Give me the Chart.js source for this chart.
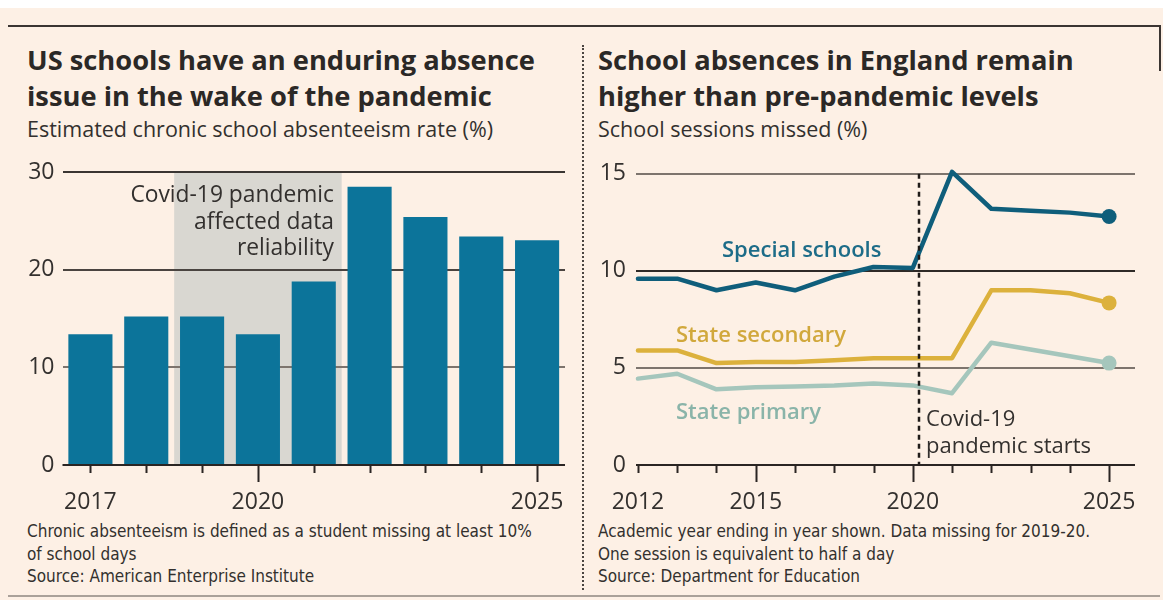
<!DOCTYPE html>
<html><head><meta charset="utf-8">
<script src="https://cdn.jsdelivr.net/npm/chart.js@4.4.1/dist/chart.umd.min.js"></script>
<style>
html,body{margin:0;padding:0;background:#fff;}
#root{position:relative;width:1163px;height:611px;overflow:hidden;background:#fff;font-family:"Open Sans",sans-serif;color:#33302e}
#paper{position:absolute;left:0;top:8px;width:1163px;height:592px;background:#fdf0e5}
.topline{position:absolute;left:8px;top:25px;width:1153px;height:2px;background:#3b3532}
.rightline{position:absolute;left:1159px;top:25px;width:2px;height:46px;background:#3b3532}
.bottomline{position:absolute;left:8px;top:595px;width:1152px;height:2px;background:#aaa199}
.sep{position:absolute;left:582px;top:45px;height:545px;border-left:2px dotted #4a4440}
.title{position:absolute;font-weight:700;font-size:27.3px;line-height:36px;white-space:nowrap;color:#2b2826}
.sub{position:absolute;font-size:21.5px;line-height:24px;white-space:nowrap}
.note{position:absolute;font-family:"Liberation Sans Narrow","DejaVu Sans Condensed",sans-serif;font-stretch:condensed;font-size:17px;line-height:22.5px;white-space:nowrap}
.box{position:absolute}
.lab{position:absolute;white-space:nowrap;font-size:22px;line-height:26.5px}
.ser{position:absolute;white-space:nowrap;font-size:22px;line-height:26px;font-weight:600}
</style></head>
<body>
<div id="root">
  <div id="paper"></div>
  <div class="topline"></div><div class="rightline"></div>
  <div class="bottomline"></div>
  <div class="sep"></div>

  <div class="title" style="left:27px;top:42px">US schools have an enduring absence<br>issue in the wake of the pandemic</div>
  <div class="sub" style="left:27px;top:117px">Estimated chronic school absenteeism rate (%)</div>
  <div class="title" style="left:598px;top:42px">School absences in England remain<br>higher than pre-pandemic levels</div>
  <div class="sub" style="left:598px;top:117px">School sessions missed (%)</div>

  <div class="box" style="left:0;top:150px;width:580px;height:370px"><canvas id="cL" width="580" height="370"></canvas></div>
  <div class="box" style="left:585px;top:150px;width:578px;height:370px"><canvas id="cR" width="578" height="370"></canvas></div>

  <div class="lab" style="right:829px;top:181px;text-align:right;font-size:22.8px">Covid-19 pandemic<br>affected data<br>reliability</div>

  <div class="ser" style="left:722px;top:235px;color:#1d6c88">Special schools</div>
  <div class="ser" style="left:676px;top:320px;color:#d1a83c">State secondary</div>
  <div class="ser" style="left:676px;top:397px;color:#8ab4a9">State primary</div>
  <div class="lab" style="left:926px;top:404px">Covid-19<br>pandemic starts</div>

  <div class="note" style="left:27px;top:520px">Chronic absenteeism is defined as a student missing at least 10%<br>of school days<br>Source: American Enterprise Institute</div>
  <div class="note" style="left:598px;top:520px">Academic year ending in year shown. Data missing for 2019-20.<br>One session is equivalent to half a day<br>Source: Department for Education</div>
</div>
<script>
// ---------- data: US chronic absenteeism ----------
const usYears = ['2017','2018','2019','2020','2021','2022','2023','2024','2025'];
const usRate = [13.4, 15.2, 15.2, 13.4, 18.8, 28.5, 25.4, 23.4, 23.0];
const usTickLabels = ['2017','','','2020','','','','','2025'];
const usMajorTicks = ['2020','2025'];
const usYTicks = [0, 10, 20, 30];
const usCovidBand = [1.5, 4.5]; // category index span (2018.5 – 2021.5)

// ---------- data: England sessions missed ----------
const engYears = ['2012','2013','2014','2015','2016','2017','2018','2019','2021','2022','2023','2024','2025'];
const engTickLabels = ['2012','','','2015','','','','2020','','','','','2025'];
const engMajorIdx = [3, 7, 12];
const special   = [9.6, 9.6, 9.0, 9.4, 9.0, 9.7, 10.2, 10.15, 15.1, 13.2, 13.1, 13.0, 12.8];
const secondary = [5.9, 5.9, 5.25, 5.3, 5.3, 5.4, 5.5, 5.5, 5.5, 9.0, 9.0, 8.85, 8.35];
const primary   = [4.45, 4.7, 3.9, 4.0, 4.05, 4.1, 4.2, 4.1, 3.7, 6.3, 5.95, 5.6, 5.25];
const engYTicks = [0, 5, 10, 15];
const pandemicStart = 7.15; // position on the category index axis

const FONT = '"Open Sans", sans-serif';
const TXT = '#33302e';

function baseAndTicks(majorTest){
  return {
    id:'baseAndTicks',
    afterDatasetsDraw(chart){
      const {ctx, chartArea, scales:{x,y}} = chart;
      const by = Math.round(y.getPixelForValue(0));
      ctx.save();
      ctx.strokeStyle = '#2a2523';
      ctx.lineWidth = 2;
      ctx.beginPath();
      ctx.moveTo(chartArea.left, by); ctx.lineTo(chartArea.right, by);
      ctx.stroke();
      x.ticks.forEach((t,i)=>{
        const px = Math.round(x.getPixelForTick(i)) + 0.5;
        const len = majorTest(t,i) ? 17 : 8;
        ctx.beginPath(); ctx.moveTo(px, by); ctx.lineTo(px, by+len); ctx.stroke();
      });
      ctx.restore();
    }
  };
}

const bandPlugin = {
  id:'band',
  beforeDraw(chart){
    const {ctx, scales:{x,y}} = chart;
    const x0 = x.getPixelForValue(usCovidBand[0]);
    const x1 = x.getPixelForValue(usCovidBand[1]);
    const y0 = y.getPixelForValue(30), y1 = y.getPixelForValue(0);
    ctx.save(); ctx.fillStyle = '#d9d7d1';
    ctx.fillRect(x0, y0, x1-x0, y1-y0);
    ctx.restore();
  }
};

const dashPlugin = {
  id:'dash',
  afterDatasetsDraw(chart){
    const {ctx, scales:{x,y}} = chart;
    const px = Math.round(x.getPixelForValue(pandemicStart));
    ctx.save();
    ctx.strokeStyle = '#1f1b19'; ctx.lineWidth = 2.5; ctx.setLineDash([5,4]);
    ctx.beginPath(); ctx.moveTo(px, y.getPixelForValue(15)); ctx.lineTo(px, y.getPixelForValue(0)); ctx.stroke();
    ctx.restore();
  }
};

const gridColorL = {30:'#3a3532', 20:'#4a4440', 10:'#7d746d'};
const gridColorR = {15:'#7d746d', 10:'#2f2a27', 5:'#7d746d'};

new Chart(document.getElementById('cL'), {
  type:'bar',
  data:{labels:usYears, datasets:[{data:usRate, backgroundColor:'#0c749a', borderWidth:0, barPercentage:0.79, categoryPercentage:1}]},
  options:{
    responsive:false, animation:false,
    layout:{padding:{left:0, right:11, top:22, bottom:0}, autoPadding:false},
    plugins:{legend:{display:false}, tooltip:{enabled:false}},
    scales:{
      x:{
        grid:{display:false}, border:{display:false},
        ticks:{autoSkip:false, maxRotation:0, padding:16, color:TXT, font:{family:FONT, size:23},
               callback:(v,i)=>usTickLabels[i]},
        afterFit:s=>{s.height = 55;}
      },
      y:{
        min:0, max:30,
        afterBuildTicks:s=>{s.ticks = usYTicks.map(v=>({value:v}));},
        grid:{drawTicks:false, color:c=>c.tick && c.tick.value!==0 ? gridColorL[c.tick.value] : 'rgba(0,0,0,0)', lineWidth:2},
        border:{display:false},
        ticks:{padding:8, color:TXT, font:{family:FONT, size:23}},
        afterFit:s=>{s.width = 62.5;}
      }
    }
  },
  plugins:[bandPlugin, baseAndTicks((t,i)=>usMajorTicks.includes(usYears[i]))]
});

function lineDS(label, vals, color){
  const last = vals.length-1;
  return {label, data:vals.map((v,i)=>({x:i, y:v})), borderColor:color, backgroundColor:color,
    borderWidth:4.5, tension:0, borderJoinStyle:'round', borderCapStyle:'round',
    pointRadius:c=>c.dataIndex===last?7.5:0, pointBorderWidth:0, pointBackgroundColor:color, clip:false};
}

new Chart(document.getElementById('cR'), {
  type:'line',
  data:{datasets:[
    lineDS('Special schools', special, '#0f5e7b'),
    lineDS('State secondary', secondary, '#dcb13c'),
    lineDS('State primary', primary, '#a5c6bc')
  ]},
  options:{
    responsive:false, animation:false,
    layout:{padding:{left:0, right:28, top:22, bottom:0}, autoPadding:false},
    plugins:{legend:{display:false}, tooltip:{enabled:false}},
    scales:{
      x:{
        type:'linear', min:-0.05, max:12.66,
        afterBuildTicks:s=>{s.ticks = engYears.map((_,i)=>({value:i}));},
        grid:{display:false}, border:{display:false},
        ticks:{autoSkip:false, maxRotation:0, padding:16, color:TXT, font:{family:FONT, size:23},
               callback:(v,i)=>engTickLabels[i]},
        afterFit:s=>{s.height = 55;}
      },
      y:{
        min:0, max:15,
        afterBuildTicks:s=>{s.ticks = engYTicks.map(v=>({value:v}));},
        grid:{drawTicks:false, color:c=>c.tick && c.tick.value!==0 ? gridColorR[c.tick.value] : 'rgba(0,0,0,0)', lineWidth:2},
        border:{display:false},
        ticks:{padding:10, color:TXT, font:{family:FONT, size:23}},
        afterFit:s=>{s.width = 51;}
      }
    }
  },
  plugins:[dashPlugin, baseAndTicks((t,i)=>engMajorIdx.includes(i))]
});
</script>
</body></html>
